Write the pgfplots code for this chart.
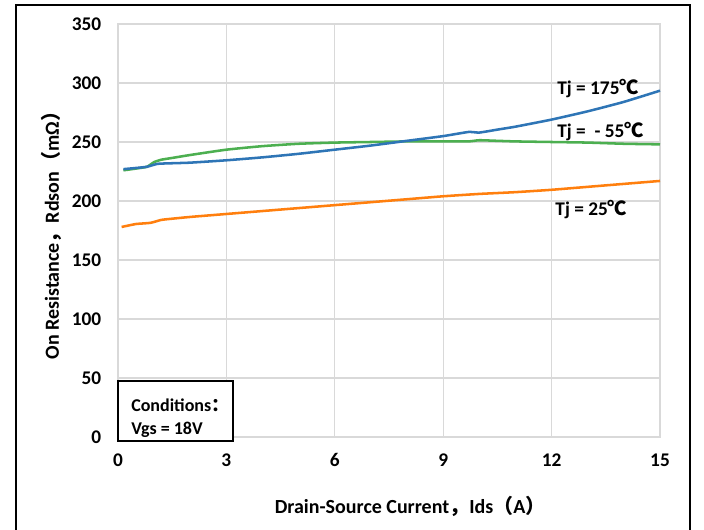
\documentclass[border=0pt]{standalone}
\usepackage{fontspec}
\setmainfont{Carlito}
\newfontfamily\cjk{Noto Sans CJK SC}
\usepackage{pgfplots}
\pgfplotsset{compat=1.18}
\usetikzlibrary{calc}

\definecolor{cblue}{HTML}{2E75B6}
\definecolor{corange}{HTML}{FF7F0E}
\definecolor{cgreen}{HTML}{4CAF50}
\definecolor{gridgray}{HTML}{D9D9D9}

\begin{document}
\begin{tikzpicture}
\begin{axis}[
  name=ax,
  scale only axis,
  width=406.5pt,
  height=309.75pt,
  xmin=0, xmax=15,
  ymin=0, ymax=350,
  xtick={0,3,...,15},
  ytick={0,50,...,350},
  grid=major,
  grid style={draw=gridgray, line width=1pt},
  axis line style={draw=gridgray, line width=1pt},
  major tick length=0pt,
  clip=false,
  /pgf/number format/assume math mode=true,
  tick label style={font=\bfseries\fontsize{14.5}{16}\selectfont},
  yticklabel style={xshift=-9pt},
  xticklabel style={yshift=-9pt},
  xlabel={\bfseries Drain-Source Current{\cjk ，}Ids{\cjk （}A{\cjk ）}},
  ylabel={\bfseries On Resistance{\cjk ，}Rdson{\cjk （}mΩ{\cjk ）}},
  label style={font=\fontsize{15}{17}\selectfont},
  xlabel style={at={(axis description cs:0.539,-0.167)}, anchor=center},
  ylabel style={at={(axis description cs:-0.122,0.5)}, anchor=center},
]
\addplot[cgreen, line width=1.9pt, smooth, tension=0.3] coordinates {
  (0.15,226) (0.5,227.5) (0.8,229) (1,233) (1.2,235) (1.5,236.5) (2,239)
  (3,243.5) (4,246.5) (5,248.5) (6,249.5) (7,250) (8,250.5) (9,250.5)
  (9.7,250.5) (10,251.5) (10.5,251) (11,250.5) (12,250) (13,249.5)
  (14,248.5) (15,248)
};
\addplot[cblue, line width=1.9pt, smooth, tension=0.3] coordinates {
  (0.15,227) (0.5,228) (0.8,229) (1.1,231.5) (1.5,232) (2,232.5) (3,234.5)
  (4,237) (5,240) (6,243.5) (7,247) (8,251) (9,255) (9.7,258.5) (10,258)
  (10.5,260.5) (11,263) (12,269) (13,276) (14,284) (15,293.5)
};
\addplot[corange, line width=1.9pt, smooth, tension=0.3] coordinates {
  (0.1,178) (0.5,180.5) (0.9,181.5) (1.2,184) (1.5,185) (2,186.5) (3,189)
  (4,191.5) (5,194) (6,196.5) (7,199) (8,201.5) (9,204) (10,206)
  (11,207.5) (12,209.5) (13,212) (14,214.5) (15,217)
};
\node[anchor=west, inner sep=0pt, font=\bfseries\fontsize{14.5}{16}\selectfont]
  at (axis cs:12.15,295) {Tj = 175{\cjk ℃}};
\node[anchor=west, inner sep=0pt, font=\bfseries\fontsize{14.5}{16}\selectfont]
  at (axis cs:12.15,259) {Tj =\ \ - 55{\cjk ℃}};
\node[anchor=west, inner sep=0pt, font=\bfseries\fontsize{14.5}{16}\selectfont]
  at (axis cs:12.1,193) {Tj = 25{\cjk ℃}};
\draw[black, line width=1pt, fill=white] (axis cs:0,-3.4) rectangle (axis cs:3.18,47.5);
\node[anchor=west, inner sep=0pt, font=\bfseries\fontsize{13.5}{15}\selectfont]
  at (axis cs:0.36,27) {Conditions{\cjk ：}};
\node[anchor=west, inner sep=0pt, font=\bfseries\fontsize{13.5}{15}\selectfont]
  at (axis cs:0.36,6) {Vgs = 18V};
\end{axis}
\draw[black, line width=1.5pt]
  ($(ax.south west)+(-76.5pt,-90pt)$) -- ($(ax.north west)+(-76.5pt,14.25pt)$)
  -- ($(ax.north east)+(22.5pt,14.25pt)$) -- ($(ax.south east)+(22.5pt,-90pt)$);
\pgfresetboundingbox
\useasboundingbox ($(ax.south west)+(-88.5pt,-69pt)$) rectangle ($(ax.north east)+(33pt,18pt)$);
\end{tikzpicture}
\end{document}
